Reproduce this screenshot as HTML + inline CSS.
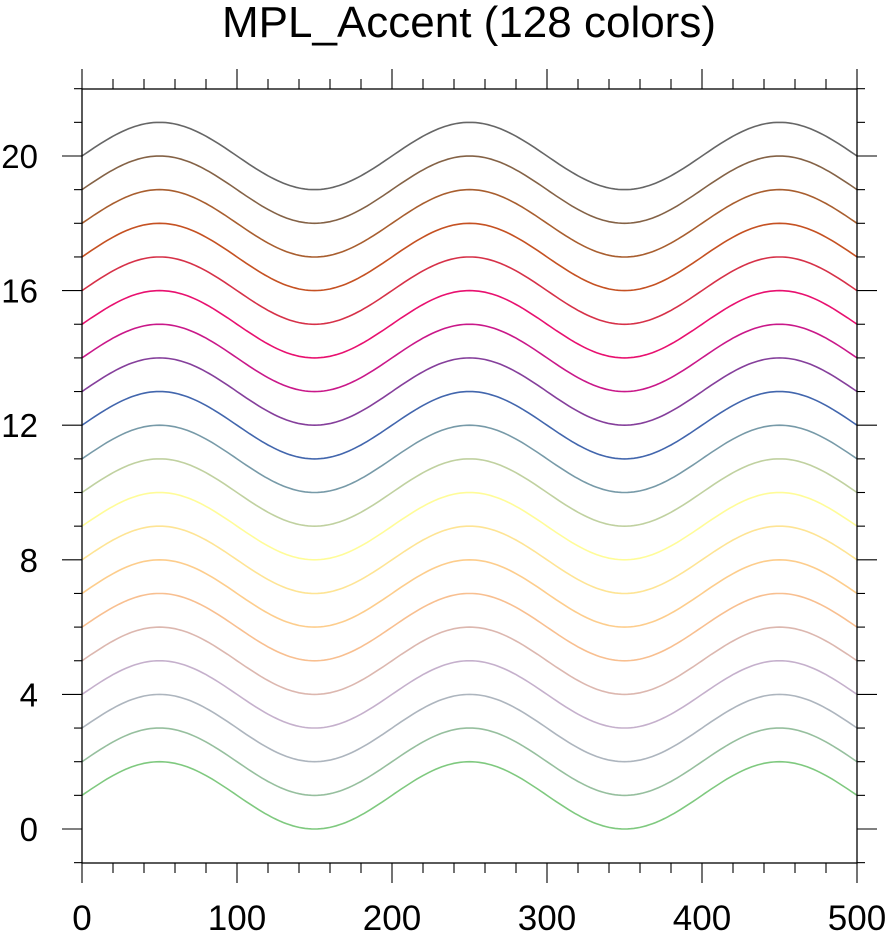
<!DOCTYPE html>
<html><head><meta charset="utf-8"><style>body{margin:0;background:#fff}svg{display:block}</style></head>
<body>
<svg id="s" width="886" height="935" xmlns="http://www.w3.org/2000/svg" font-family="Liberation Sans, sans-serif">
<text x="469" y="37" font-size="44" text-anchor="middle">MPL_Accent (128 colors)</text>
<g id="curves" fill="none" stroke-width="1.6"></g>
<rect x="82" y="89" width="775" height="774" fill="none" stroke="#000" stroke-width="1.3"/>
<g id="ticks" stroke="#000" stroke-width="1.1"></g>
<g id="labels"></g>
</svg>
<script>
var X=function(v){return 82+v*1.55},Y=function(v){return 829-v*33.65};
var cols=["#7fc97f","#96bf9e","#adb5be","#c5b0cc","#dcb7af","#f8bf90","#fdcd8c","#fee494","#fffc98","#c0d1a0","#779aa8","#4266ad","#853f9b","#c91889","#e8106f","#d63148","#c55122","#a85e2f","#846246","#666666"];
var c="",t="",l="";
for(var i=0;i<20;i++){var d="";for(var x=0;x<=500;x+=2){var y=i+1+Math.sin(2*Math.PI*x/200);d+=(x?"L":"M")+X(x).toFixed(1)+" "+Y(y).toFixed(1);}
c+='<path d="'+d+'" stroke="'+cols[i]+'"/>';}
for(var x=0;x<=500;x+=20){var L=x%100==0?20:10;t+='<line x1="'+X(x)+'" x2="'+X(x)+'" y1="863" y2="'+(863+L)+'"/><line x1="'+X(x)+'" x2="'+X(x)+'" y1="89" y2="'+(89-L)+'"/>';}
for(var v=-1;v<=22;v++){var L=(v%4==0&&v>=0)?20:8;t+='<line x1="82" x2="'+(82-L)+'" y1="'+Y(v)+'" y2="'+Y(v)+'"/><line x1="857" x2="'+(857+L)+'" y1="'+Y(v)+'" y2="'+Y(v)+'"/>';}
for(var x=0;x<=500;x+=100)l+='<text x="'+X(x)+'" y="930" font-size="35" text-anchor="middle">'+x+'</text>';
for(var v=0;v<=20;v+=4)l+='<text x="38" y="'+(Y(v)+12)+'" font-size="33" text-anchor="end">'+v+'</text>';
document.getElementById("curves").innerHTML=c;document.getElementById("ticks").innerHTML=t;document.getElementById("labels").innerHTML=l;
</script>
</body></html>
